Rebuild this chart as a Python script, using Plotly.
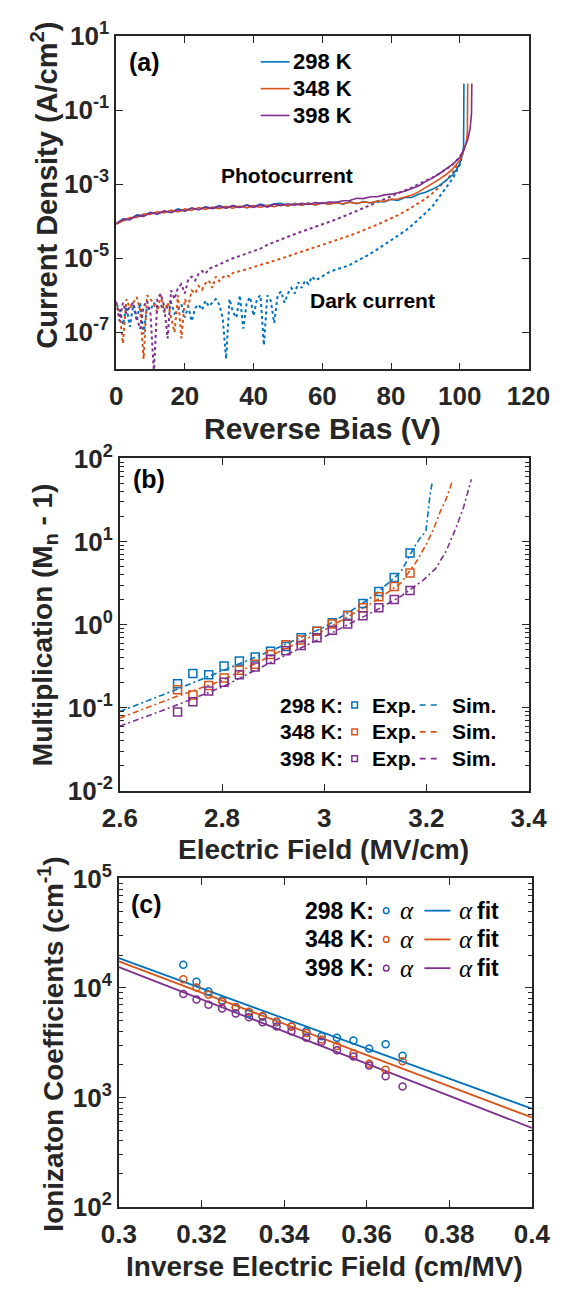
import plotly.graph_objects as go

W, H = 571, 1295
INK = "#262626"
SANS = "Liberation Sans"
SERIF = "Liberation Serif"
TEMPS = ["298 K", "348 K", "398 K"]
COLORS = ["#0072BD", "#D95319", "#7E2F8E"]

# ---------------- (a) current density vs reverse bias ----------------
bias_sweep = list(range(0, 100, 2))

photo_298 = [8.5e-5, 1.15e-4, 1.12e-4, 1.48e-4, 1.41e-4, 1.74e-4, 1.55e-4, 1.86e-4, 1.74e-4, 2.14e-4,
             1.91e-4, 2.24e-4, 2.04e-4, 2.45e-4, 2.24e-4, 2.63e-4, 2.29e-4, 2.63e-4, 2.34e-4, 2.75e-4,
             2.45e-4, 2.88e-4, 2.57e-4, 2.95e-4, 3.02e-4, 2.63e-4, 3.02e-4, 2.69e-4, 3.09e-4, 2.75e-4,
             3.16e-4, 2.88e-4, 3.24e-4, 2.88e-4, 3.31e-4, 2.95e-4, 3.39e-4, 3.09e-4, 3.47e-4, 3.31e-4,
             3.89e-4, 3.63e-4, 4.37e-4, 4.37e-4, 5.37e-4, 6.03e-4, 7.24e-4, 9.12e-4, 1.26e-3, 1.82e-3]
photo_tail_bias_298 = [99, 100, 100.8, 101.1, 101.2]
photo_tail_298 = [2.45e-3, 3.6e-3, 6.5e-3, 9.5e-3, 0.52]

photo_348 = [8.3e-5, 1.05e-4, 1.26e-4, 1.26e-4, 1.55e-4, 1.51e-4, 1.82e-4, 1.66e-4, 2.00e-4, 1.78e-4,
             2.14e-4, 1.95e-4, 2.34e-4, 2.09e-4, 2.40e-4, 2.19e-4, 2.51e-4, 2.24e-4, 2.57e-4, 2.29e-4,
             2.63e-4, 2.34e-4, 2.69e-4, 2.45e-4, 2.82e-4, 2.57e-4, 2.95e-4, 2.69e-4, 3.02e-4, 2.75e-4,
             3.09e-4, 2.88e-4, 3.16e-4, 2.95e-4, 3.24e-4, 3.02e-4, 3.31e-4, 3.16e-4, 3.47e-4, 3.47e-4,
             3.89e-4, 3.98e-4, 4.57e-4, 5.01e-4, 6.17e-4, 7.94e-4, 1.00e-3, 1.35e-3, 1.82e-3, 2.63e-3]
photo_tail_bias_348 = [100, 101.3, 101.9, 102.2, 102.3]
photo_tail_348 = [4.37e-3, 8.9e-3, 1.41e-2, 2.5e-2, 0.52]

photo_398 = [8.7e-5, 1.10e-4, 1.10e-4, 1.41e-4, 1.35e-4, 1.70e-4, 1.58e-4, 1.91e-4, 1.70e-4, 2.04e-4,
             1.86e-4, 2.29e-4, 2.04e-4, 2.40e-4, 2.19e-4, 2.51e-4, 2.24e-4, 2.63e-4, 2.34e-4, 2.69e-4,
             2.34e-4, 2.75e-4, 2.40e-4, 2.88e-4, 2.63e-4, 2.95e-4, 2.69e-4, 3.02e-4, 2.82e-4, 3.16e-4,
             3.02e-4, 3.31e-4, 3.24e-4, 3.55e-4, 3.63e-4, 4.17e-4, 4.07e-4, 4.57e-4, 4.57e-4, 5.13e-4,
             5.37e-4, 5.89e-4, 6.46e-4, 7.59e-4, 8.91e-4, 1.17e-3, 1.45e-3, 1.91e-3, 2.51e-3, 3.47e-3]
photo_tail_bias_398 = [100, 101.3, 102.3, 103.0, 103.4, 103.5]
photo_tail_398 = [5.25e-3, 9.1e-3, 1.58e-2, 3.16e-2, 7.9e-2, 0.52]

dark_bias_298 = list(range(0, 59)) + list(range(60, 101, 2)) + [101.2]
dark_298 = [5.6e-7, 4.5e-7, 1.6e-7, 5.0e-7, 1.4e-7, 5.6e-7, 2.0e-7, 6.3e-7, 8.9e-8, 5.0e-7,
            4.0e-7, 6.3e-7, 4.5e-7, 5.6e-7, 3.5e-7, 5.0e-7, 6.3e-7, 3.2e-7, 4.0e-7, 5.6e-7,
            2.5e-7, 5.0e-7, 2.0e-7, 4.5e-7, 5.6e-7, 4.0e-7, 7.1e-7, 5.0e-7, 6.3e-7, 7.9e-7,
            5.6e-7, 2.5e-7, 1.9e-8, 7.9e-7, 3.5e-7, 2.5e-7, 1.0e-6, 1.26e-7, 6.3e-7, 8.9e-7,
            2.8e-7, 7.9e-7, 1.0e-6, 4.5e-8, 1.0e-6, 7.1e-7, 1.8e-7, 1.0e-6, 1.26e-6, 6.3e-7,
            1.12e-6, 1.58e-6, 1.12e-6, 2.24e-6, 1.58e-6, 2.5e-6, 2.0e-6, 3.2e-6, 2.5e-6,
            3.3e-6, 4.2e-6, 5.0e-6, 5.6e-6, 6.6e-6, 8.3e-6, 1.05e-5, 1.32e-5, 1.74e-5, 2.29e-5,
            3.0e-5, 4.0e-5, 5.4e-5, 7.6e-5, 1.10e-4, 1.66e-4, 2.5e-4, 4.4e-4, 7.9e-4, 1.45e-3,
            3.3e-3, 9.5e-3]

dark_bias_348 = list(range(0, 35)) + list(range(36, 101, 2)) + [101.3]
dark_348 = [6.3e-7, 3.2e-7, 5.0e-8, 7.9e-7, 4.5e-7, 6.3e-7, 8.9e-7, 4.0e-7, 1.9e-8, 1.0e-6,
            7.9e-7, 5.6e-7, 3.5e-7, 1.0e-6, 3.5e-7, 6.3e-7, 2.5e-7, 1.0e-7, 1.0e-6, 6.8e-8,
            7.9e-7, 5.0e-7, 1.35e-6, 1.12e-6, 1.78e-6, 1.41e-6, 2.1e-6, 2.5e-6, 1.58e-6, 3.2e-6,
            2.4e-6, 3.0e-6, 3.5e-6, 3.2e-6, 4.0e-6,
            4.4e-6, 5.0e-6, 5.8e-6, 6.5e-6, 7.6e-6, 8.5e-6, 9.8e-6, 1.12e-5, 1.32e-5, 1.51e-5,
            1.74e-5, 2.0e-5, 2.29e-5, 2.63e-5, 3.0e-5, 3.5e-5, 4.1e-5, 4.8e-5, 5.6e-5, 6.8e-5,
            8.1e-5, 9.8e-5, 1.17e-4, 1.45e-4, 1.82e-4, 2.34e-4, 3.0e-4, 4.0e-4, 5.6e-4, 8.3e-4,
            1.26e-3, 2.1e-3, 4.2e-3, 9.5e-3]

dark_bias_398 = list(range(0, 29)) + list(range(30, 101, 2)) + [101.3]
dark_398 = [6.8e-7, 2.0e-7, 6.3e-7, 3.2e-7, 5.0e-7, 6.3e-7, 2.5e-7, 1.23e-7, 5.0e-7, 7.1e-7,
            3.2e-7, 7.9e-9, 7.9e-7, 1.10e-6, 5.0e-7, 6.8e-8, 1.35e-6, 7.9e-7, 1.58e-6, 2.0e-6,
            1.12e-6, 2.7e-6, 3.2e-6, 2.5e-6, 3.8e-6, 4.5e-6, 3.8e-6, 5.2e-6, 5.6e-6,
            6.9e-6, 8.3e-6, 1.0e-5, 1.15e-5, 1.32e-5, 1.55e-5, 1.82e-5, 2.29e-5, 2.75e-5, 3.2e-5,
            3.8e-5, 4.5e-5, 5.2e-5, 6.0e-5, 7.1e-5, 8.3e-5, 9.5e-5, 1.12e-4, 1.32e-4, 1.58e-4,
            1.86e-4, 2.19e-4, 2.63e-4, 3.16e-4, 3.8e-4, 4.6e-4, 5.5e-4, 6.6e-4, 8.1e-4, 1.0e-3,
            1.20e-3, 1.51e-3, 1.91e-3, 2.5e-3, 3.5e-3, 5.4e-3, 9.1e-3]

bias_ticks = [0, 20, 40, 60, 80, 100, 120]
current_ticks = [1e1, 1e-1, 1e-3, 1e-5, 1e-7]
current_ticktext = ["10<sup>1</sup>", "10<sup>-1</sup>", "10<sup>-3</sup>", "10<sup>-5</sup>", "10<sup>-7</sup>"]

# ---------------- (b) multiplication vs electric field ----------------
field_exp = [2.713, 2.743, 2.774, 2.804, 2.834, 2.865, 2.895, 2.925,
             2.955, 2.986, 3.016, 3.046, 3.076, 3.107, 3.137, 3.168]
mult_exp_298 = [0.194, 0.259, 0.249, 0.318, 0.364, 0.409, 0.477, 0.545,
                0.695, 0.832, 1.05, 1.30, 1.80, 2.51, 3.70, 7.26]
mult_exp_348 = [0.165, 0.142, 0.185, 0.228, 0.283, 0.333, 0.436, 0.571,
                0.653, 0.832, 1.02, 1.28, 1.60, 2.16, 2.88, 4.19]
mult_exp_398 = [0.0887, 0.118, 0.159, 0.203, 0.249, 0.310, 0.380, 0.485,
                0.560, 0.695, 0.855, 1.02, 1.28, 1.60, 2.01, 2.58]

field_sim_298 = [2.6, 2.7, 2.8, 2.9, 3.0, 3.05, 3.1, 3.15, 3.176, 3.188, 3.199, 3.203, 3.207, 3.212]
mult_sim_298 = [0.090, 0.156, 0.277, 0.497, 0.935, 1.43, 2.30, 4.30, 8.5, 11.1, 13.1, 22.8, 35.8, 53.7]
field_sim_348 = [2.6, 2.7, 2.8, 2.9, 3.0, 3.05, 3.1, 3.15, 3.182, 3.2, 3.215, 3.227, 3.239, 3.251]
mult_sim_348 = [0.075, 0.129, 0.212, 0.435, 0.855, 1.28, 1.92, 3.15, 5.9, 9.3, 14.6, 22.8, 32.8, 53.7]
field_sim_398 = [2.6, 2.7, 2.8, 2.9, 3.0, 3.05, 3.1, 3.15, 3.194, 3.218, 3.239, 3.258, 3.273, 3.288]
mult_sim_398 = [0.060, 0.101, 0.177, 0.363, 0.714, 1.02, 1.47, 2.19, 3.44, 4.72, 7.74, 14.6, 26.1, 56.0]

field_ticks = [2.6, 2.8, 3.0, 3.2, 3.4]
mult_ticks = [1e-2, 1e-1, 1e0, 1e1, 1e2]
mult_ticktext = ["10<sup>-2</sup>", "10<sup>-1</sup>", "10<sup>0</sup>", "10<sup>1</sup>", "10<sup>2</sup>"]

# ---------------- (c) ionization coefficient vs inverse field ----------------
inv_field = [0.3156, 0.3188, 0.3217, 0.3250, 0.3283, 0.3315, 0.3348, 0.3382,
             0.3418, 0.3454, 0.3491, 0.3528, 0.3568, 0.3606, 0.3646, 0.3687]
alpha_298 = [16300, 11400, 9300, 7690, 6620, 5850, 5470, 4870,
             4450, 4020, 3630, 3510, 3320, 2800, 3060, 2400]
alpha_348 = [12000, 10100, 8650, 7540, 6710, 6060, 5540, 4930,
             4450, 3880, 3390, 2950, 2520, 2030, 1790, 2140]
alpha_398 = [8830, 7860, 7040, 6490, 5850, 5390, 4870, 4450,
             4020, 3510, 3230, 2700, 2360, 1960, 1560, 1260]

fit_inv_field = [0.3, 0.4]
alpha_fit_298 = [18700, 789]
alpha_fit_348 = [17500, 656]
alpha_fit_398 = [15500, 527]

inv_ticks = [0.30, 0.32, 0.34, 0.36, 0.38, 0.40]
alpha_ticks = [1e2, 1e3, 1e4, 1e5]
alpha_ticktext = ["10<sup>2</sup>", "10<sup>3</sup>", "10<sup>4</sup>", "10<sup>5</sup>"]


def px(x):
    return x / W


def py(y):
    return 1 - y / H


fig = go.Figure()

# (a) dark currents (dotted) and photocurrents (solid)
for color, xs, ys in zip(COLORS, [dark_bias_298, dark_bias_348, dark_bias_398],
                         [dark_298, dark_348, dark_398]):
    fig.add_trace(go.Scatter(x=xs, y=ys, mode="lines", xaxis="x", yaxis="y",
                             line=dict(color=color, width=2, dash="dot"), showlegend=False))

photo_sets = [
    (photo_298, photo_tail_bias_298, photo_tail_298),
    (photo_348, photo_tail_bias_348, photo_tail_348),
    (photo_398, photo_tail_bias_398, photo_tail_398),
]
for color, (body, tail_x, tail_y) in zip(COLORS, photo_sets):
    fig.add_trace(go.Scatter(x=bias_sweep + tail_x, y=body + tail_y, mode="lines",
                             xaxis="x", yaxis="y", line=dict(color=color, width=1.6),
                             showlegend=False))

# (b) simulated multiplication (dash-dot) and measured points (squares)
for color, xs, ys in zip(COLORS, [field_sim_298, field_sim_348, field_sim_398],
                         [mult_sim_298, mult_sim_348, mult_sim_398]):
    fig.add_trace(go.Scatter(x=xs, y=ys, mode="lines", xaxis="x2", yaxis="y2",
                             line=dict(color=color, width=1.6, dash="6px,3px,2px,3px"),
                             showlegend=False))
for color, ys in zip(COLORS, [mult_exp_298, mult_exp_348, mult_exp_398]):
    fig.add_trace(go.Scatter(x=field_exp, y=ys, mode="markers", xaxis="x2", yaxis="y2",
                             marker=dict(symbol="square-open", size=8, color=color,
                                         line=dict(width=1.5, color=color)),
                             showlegend=False))

# (c) ionization coefficients (circles) and exponential fits
for color, ys in zip(COLORS, [alpha_fit_298, alpha_fit_348, alpha_fit_398]):
    fig.add_trace(go.Scatter(x=fit_inv_field, y=ys, mode="lines", xaxis="x3", yaxis="y3",
                             line=dict(color=color, width=1.8), showlegend=False))
for color, ys in zip(COLORS, [alpha_298, alpha_348, alpha_398]):
    fig.add_trace(go.Scatter(x=inv_field, y=ys, mode="markers", xaxis="x3", yaxis="y3",
                             marker=dict(symbol="circle-open", size=7, color=color,
                                         line=dict(width=1.5, color=color)),
                             showlegend=False))

TICK_FONT = dict(family=SANS, size=26, color=INK, weight="bold")


def frame(**kw):
    base = dict(showline=True, linecolor=INK, linewidth=1.6, mirror="allticks",
                ticks="inside", ticklen=7, tickwidth=1.2, tickcolor=INK,
                showgrid=False, zeroline=False, tickfont=TICK_FONT)
    base.update(kw)
    return base


MINOR = dict(ticks="inside", ticklen=4, tickwidth=1, tickcolor=INK, dtick="D1", showgrid=False)

layout = dict(
    width=W, height=H, margin=dict(l=0, r=0, t=0, b=0),
    paper_bgcolor="white", plot_bgcolor="white", showlegend=False,
    xaxis=frame(domain=[px(105.5), px(549)], range=[0, 120], tickmode="array",
                tickvals=bias_ticks, anchor="y", ticklabelstandoff=3),
    yaxis=frame(domain=[py(360.5), py(18.5)], type="log", range=[-8, 1], tickmode="array",
                tickvals=current_ticks, ticktext=current_ticktext, anchor="x"),
    xaxis2=frame(domain=[px(109.5), px(549)], range=[2.6, 3.4], tickmode="array",
                 tickvals=field_ticks, ticktext=["2.6", "2.8", "3", "3.2", "3.4"], anchor="y2",
                 ticklabelstandoff=3),
    yaxis2=frame(domain=[py(793), py(452)], type="log", range=[-2, 2], tickmode="array",
                 tickvals=mult_ticks, ticktext=mult_ticktext, anchor="x2", minor=MINOR),
    xaxis3=frame(domain=[px(108.5), px(552.5)], range=[0.3, 0.4], tickmode="array",
                 tickvals=inv_ticks, ticktext=["0.3", "0.32", "0.34", "0.36", "0.38", "0.4"],
                 anchor="y3", ticklabelstandoff=3),
    yaxis3=frame(domain=[py(1220), py(883)], type="log", range=[2, 5], tickmode="array",
                 tickvals=alpha_ticks, ticktext=alpha_ticktext, anchor="x3", minor=MINOR),
)

annotations = []
shapes = []


def note(text, x, y, size, xanchor="left", yanchor="middle", angle=0,
         family=SANS, color="#000000", weight="bold"):
    annotations.append(dict(text=text, x=px(x), y=py(y), xref="paper", yref="paper",
                            showarrow=False, xanchor=xanchor, yanchor=yanchor,
                            textangle=angle,
                            font=dict(family=family, size=size, color=color, weight=weight)))


def seg(x0, x1, y, color, dash="solid", width=1.6):
    shapes.append(dict(type="line", xref="paper", yref="paper", x0=px(x0), x1=px(x1),
                       y0=py(y), y1=py(y), line=dict(color=color, width=width, dash=dash)))


# axis titles
note("Reverse Bias (V)", 327, 421, 30, xanchor="center", color=INK)
note("Current Density (A/cm<sup>2</sup>)", 28, 172, 29, xanchor="center", angle=-90, color=INK)
note("Electric Field (MV/cm)", 329, 853, 28, xanchor="center", color=INK)
note("Multiplication (M<sub>n</sub> - 1)", 28, 623, 28, xanchor="center", angle=-90, color=INK)
note("Inverse Electric Field (cm/MV)", 330, 1281, 28, xanchor="center", color=INK)
note("Ionizaton Coefficients (cm<sup>-1</sup>)", 36, 1053, 28, xanchor="center", angle=-90,
     color=INK)

# panel tags
note("(a)", 117, 45, 25)
note("(b)", 121, 473, 25)
note("(c)", 119, 909, 25)

# (a) text labels and legend
note("Photocurrent", 289, 162, 21, xanchor="center")
note("Dark current", 381, 290, 21, xanchor="center")
for i, (temp, color) in enumerate(zip(TEMPS, COLORS)):
    yrow = 45 + 27.5 * i
    seg(261, 292, yrow, color)
    note(temp, 294, yrow, 22)

# (b) legend
for i, (temp, color) in enumerate(zip(TEMPS, COLORS)):
    yrow = 705 + 27.5 * i
    note(temp + ":", 280, yrow, 21)
    shapes.append(dict(type="rect", xref="paper", yref="paper",
                       x0=px(359), x1=px(365), y0=py(yrow - 3), y1=py(yrow + 3),
                       line=dict(color=color, width=1.5)))
    note("Exp.", 378, yrow, 21)
    seg(432, 455, yrow, color, dash="6px,5px")
    note("Sim.", 465, yrow, 21)

# (c) legend
for i, (temp, color) in enumerate(zip(TEMPS, COLORS)):
    yrow = 916 + 29.5 * i
    note(temp + ":", 307, yrow, 23)
    shapes.append(dict(type="circle", xref="paper", yref="paper",
                       x0=px(393), x1=px(399), y0=py(yrow - 3), y1=py(yrow + 3),
                       line=dict(color=color, width=1.5)))
    note("<i>α</i>", 409, yrow, 25, family=SERIF, weight="normal")
    seg(437, 465, yrow, color, width=1.8)
    note("<i>α</i>", 472, yrow, 25, family=SERIF, weight="normal")
    note("fit", 491, yrow, 23)

layout["annotations"] = annotations
layout["shapes"] = shapes
fig.update_layout(**layout)

fig.write_html("out.html")
